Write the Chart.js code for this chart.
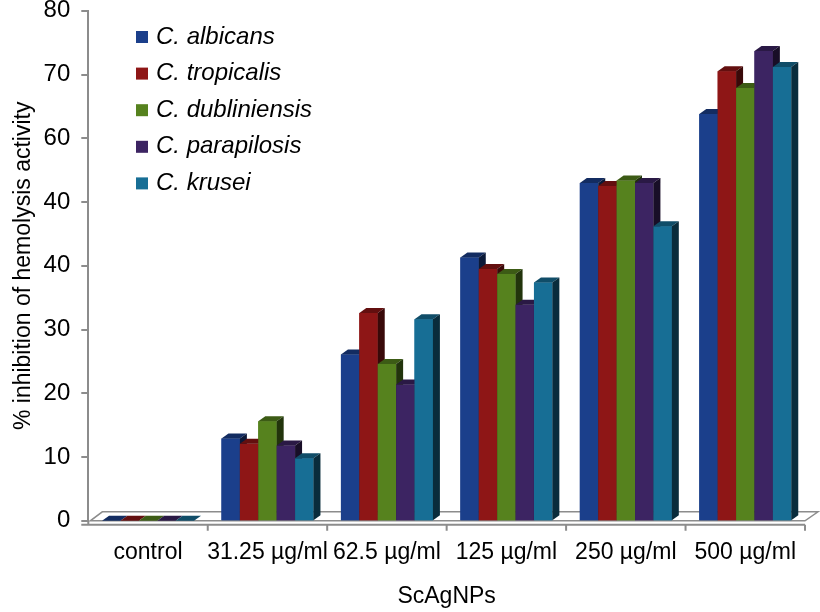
<!DOCTYPE html>
<html>
<head>
<meta charset="utf-8">
<script src="https://cdn.jsdelivr.net/npm/chart.js@4.4.1/dist/chart.umd.min.js"></script>
<style>
  html, body { margin: 0; padding: 0; background: #fff; }
  #wrap { width: 820px; height: 612px; }
</style>
</head>
<body>
<div id="wrap"><canvas id="hemo-chart"></canvas></div>
<script>
const categories = ['control', '31.25 µg/ml', '62.5 µg/ml', '125 µg/ml', '250 µg/ml', '500 µg/ml'];
const seriesNames = ['C. albicans', 'C. tropicalis', 'C. dubliniensis', 'C. parapilosis', 'C. krusei'];
const seriesColors = ['#1b3f8b', '#8e1616', '#56821e', '#3c2462', '#176e95'];

const albicans = [0, 12.9, 26.1, 41.3, 53.0, 63.8];
const tropicalis = [0, 12.1, 32.6, 39.5, 52.5, 70.5];
const dubliniensis = [0, 15.6, 24.6, 38.7, 53.4, 67.9];
const parapilosis = [0, 11.8, 21.4, 33.9, 53.0, 73.7];
const krusei = [0, 9.8, 31.6, 37.4, 46.2, 71.2];

// the source figure labels the 50 line as "40" too
const yTickLabels = ['0', '10', '20', '30', '40', '40', '60', '70', '80'];

const seriesValues = [albicans, tropicalis, dubliniensis, parapilosis, krusei];
const axisGray = '#8c8c8c';
const FONT = "'Liberation Sans', Arial, sans-serif";

function shade(hex, f) {
  const n = parseInt(hex.slice(1), 16);
  const r = Math.round(((n >> 16) & 255) * f);
  const g = Math.round(((n >> 8) & 255) * f);
  const b = Math.round((n & 255) * f);
  return `rgb(${r},${g},${b})`;
}

const DX = 7, DY = 5;

// redraw bars left to right with their top and side faces,
// so each bar's front covers the side of the one before it
const bar3d = {
  id: 'bar3d',
  afterDatasetsDraw(chart) {
    const ctx = chart.ctx;
    for (let i = 0; i < seriesNames.length; i++) {
      const meta = chart.getDatasetMeta(i);
      const color = seriesColors[i];
      meta.data.forEach(bar => {
        bar.draw(ctx, chart.chartArea);
        const { x, y, base, width } = bar.getProps(['x', 'y', 'base', 'width'], true);
        const l = x - width / 2, r = x + width / 2;
        ctx.save();
        ctx.fillStyle = shade(color, 0.7);
        ctx.beginPath();
        ctx.moveTo(l, y);
        ctx.lineTo(l + DX, y - DY);
        ctx.lineTo(r + DX, y - DY);
        ctx.lineTo(r, y);
        ctx.closePath();
        ctx.fill();
        ctx.fillStyle = shade(color, 0.4);
        ctx.beginPath();
        ctx.moveTo(r, y);
        ctx.lineTo(r + DX, y - DY);
        ctx.lineTo(r + DX, base - DY);
        ctx.lineTo(r, base);
        ctx.closePath();
        ctx.fill();
        ctx.restore();
      });
    }
  }
};

const floor3d = {
  id: 'floor3d',
  beforeDatasetsDraw(chart) {
    const { ctx, chartArea, scales } = chart;
    const { left, right, bottom } = chartArea;
    ctx.save();
    ctx.strokeStyle = axisGray;
    ctx.lineWidth = 1.5;
    ctx.beginPath();
    ctx.moveTo(left + 2, bottom);
    ctx.lineTo(right, bottom);
    ctx.lineTo(right + 13, bottom - 9);
    ctx.lineTo(left + 14, bottom - 9);
    ctx.closePath();
    ctx.stroke();

    ctx.lineWidth = 2;
    ctx.beginPath();
    // short y tick marks (the scale's own ticks are kept invisible for spacing)
    scales.y.ticks.forEach(t => {
      const ty = Math.round(scales.y.getPixelForValue(t.value));
      ctx.moveTo(left - 7, ty);
      ctx.lineTo(left, ty);
    });
    // x axis line sits a little below the floor
    const ay = bottom + 4;
    ctx.moveTo(left - 7, ay);
    ctx.lineTo(right, ay);
    ctx.moveTo(left, bottom);
    ctx.lineTo(left, ay);
    const step = (right - left) / categories.length;
    for (let k = 1; k <= categories.length; k++) {
      const tx = left + k * step;
      ctx.moveTo(tx, ay);
      ctx.lineTo(tx, ay + 6);
    }
    ctx.stroke();
    ctx.restore();
  }
};

const sideLegend = {
  id: 'sideLegend',
  afterDraw(chart) {
    const ctx = chart.ctx;
    ctx.save();
    ctx.font = `italic 24px ${FONT}`;
    ctx.textBaseline = 'middle';
    seriesNames.forEach((name, i) => {
      const cy = 37 + i * 36.6;
      ctx.fillStyle = seriesColors[i];
      ctx.fillRect(136, cy - 6, 12, 12);
      ctx.fillStyle = '#000';
      ctx.fillText(name, 156, cy);
    });
    ctx.restore();
  }
};

const ctx = document.getElementById('hemo-chart').getContext('2d');
new Chart(ctx, {
  type: 'bar',
  data: {
    labels: categories,
    datasets: seriesNames.map((name, i) => ({
      label: name,
      data: seriesValues[i],
      backgroundColor: seriesColors[i],
      borderWidth: 0,
      categoryPercentage: 0.77,
      barPercentage: 1.0
    }))
  },
  options: {
    responsive: true,
    maintainAspectRatio: false,
    animation: false,
    layout: { padding: { left: 10, right: 15, top: 0, bottom: 0 } },
    plugins: {
      legend: { display: false },
      tooltip: { enabled: false }
    },
    scales: {
      x: {
        grid: { display: false },
        border: { display: false },
        ticks: {
          autoSkip: false,
          maxRotation: 0,
          minRotation: 0,
          padding: 10,
          color: '#000',
          font: { family: FONT, size: 23 }
        },
        title: {
          display: true,
          text: 'ScAgNPs',
          color: '#000',
          font: { family: FONT, size: 23 },
          padding: { top: 6, bottom: 2 }
        }
      },
      y: {
        min: 0,
        max: 80,
        grid: { drawOnChartArea: false, drawTicks: true, tickLength: 18, color: 'rgba(0,0,0,0)' },
        border: { display: true, color: axisGray, width: 2 },
        ticks: {
          stepSize: 10,
          padding: 0,
          color: '#000',
          font: { family: FONT, size: 24, lineHeight: 0.9 },
          callback: (v, i) => yTickLabels[i]
        },
        title: {
          display: true,
          text: '% inhibition of hemolysis activity',
          color: '#000',
          font: { family: FONT, size: 23 },
          padding: { top: 0, bottom: 6 }
        }
      }
    }
  },
  plugins: [floor3d, bar3d, sideLegend]
});
</script>
</body>
</html>
